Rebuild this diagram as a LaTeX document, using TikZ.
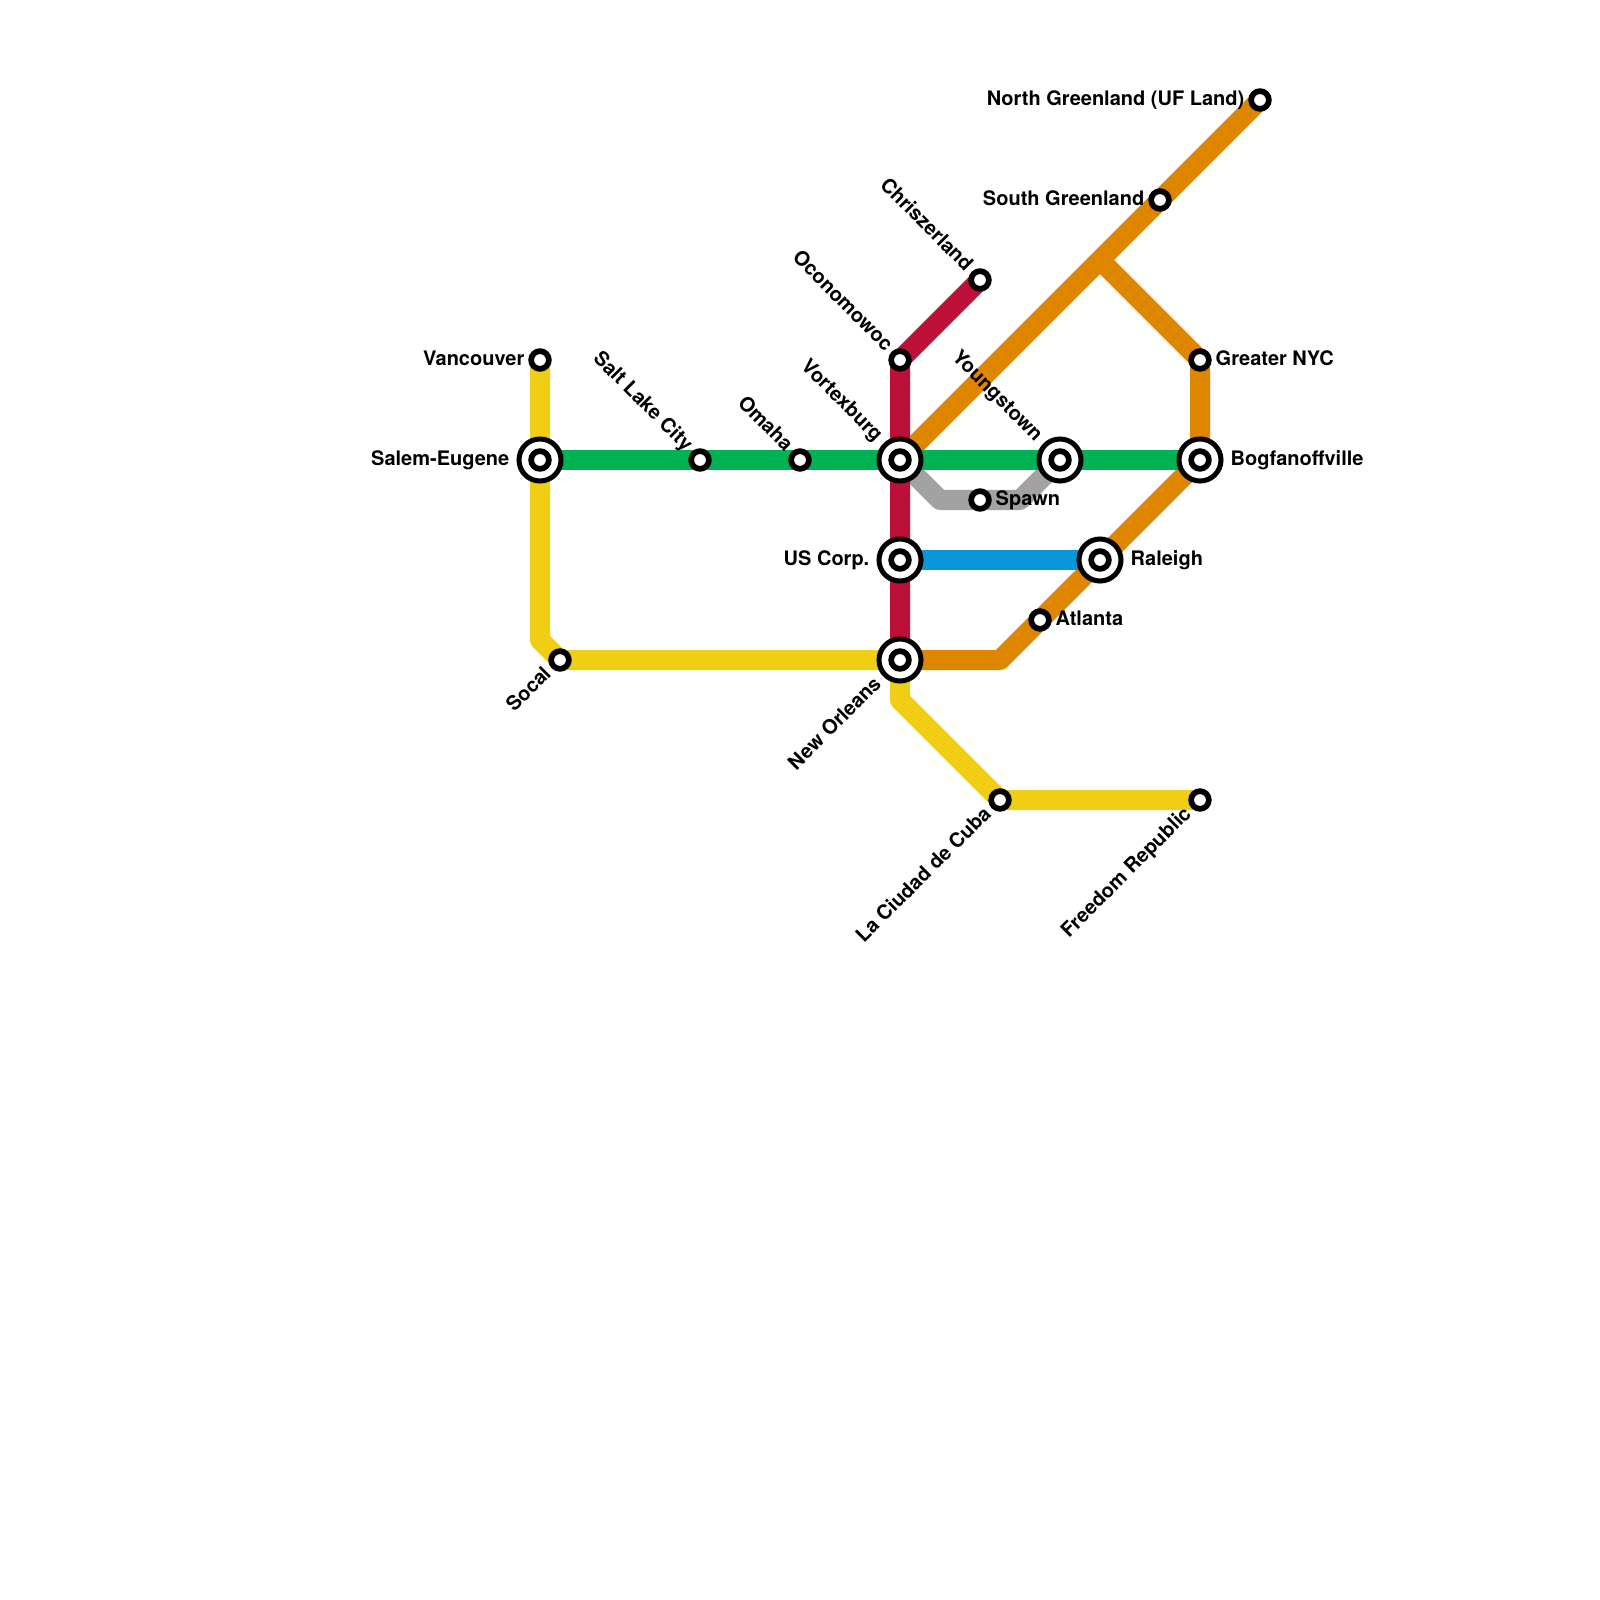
\documentclass[tikz,border=0pt]{standalone}
\usepackage{fontspec}
\setmainfont{TeX Gyre Heros}
\definecolor{lnyellow}{HTML}{F0CE15}
\definecolor{lngreen}{HTML}{00B251}
\definecolor{lncrimson}{HTML}{BD1038}
\definecolor{lnorange}{HTML}{DF8600}
\definecolor{lngrey}{HTML}{A2A2A2}
\definecolor{lnblue}{HTML}{0896D7}
\tikzset{
  metroline/.style={line width=.2cm,line join=round},
  stnsmall/.style={circle,draw=black,fill=white,line width=.057cm,minimum size=.177cm,inner sep=0pt},
  stnbig/.style={circle,draw=black,fill=white,line width=.05cm,minimum size=.42cm,inner sep=0pt},
  stnlabel/.style={font=\fontsize{5.69pt}{6.5pt}\selectfont\bfseries,inner sep=0pt,text height=4.15pt,text depth=1.2pt}
}
\begin{document}
\begin{tikzpicture}[x=.01cm,y=-.01cm]
\useasboundingbox(0,0)rectangle(1600,1600);
\coordinate(Vancouver)at(540,360);\coordinate(Salem)at(540,460);\coordinate(Socal)at(560,660);\coordinate(SaltLake)at(700,460);\coordinate(Omaha)at(800,460);
\coordinate(Vortexburg)at(900,460);\coordinate(USCorp)at(900,560);\coordinate(NewOrleans)at(900,660);\coordinate(Oconomowoc)at(900,360);\coordinate(Chriszerland)at(980,280);
\coordinate(Spawn)at(980,500);\coordinate(Youngstown)at(1060,460);\coordinate(Bogfanoff)at(1200,460);\coordinate(Raleigh)at(1100,560);\coordinate(Atlanta)at(1040,620);
\coordinate(GreaterNYC)at(1200,360);\coordinate(SouthGr)at(1160,200);\coordinate(NorthGr)at(1260,100);\coordinate(LaCiudad)at(1000,800);\coordinate(Freedom)at(1200,800);
\coordinate(OrangeFork)at(1100,260);\coordinate(OrangeBend)at(1000,660);\coordinate(YellowBendA)at(540,640);\coordinate(YellowBendB)at(900,700);\coordinate(GreyBendA)at(940,500);\coordinate(GreyBendB)at(1020,500);
% lines
\draw[metroline,lnorange](Vortexburg)--(NorthGr) (OrangeFork)--(GreaterNYC)--(Bogfanoff)--(Raleigh)--(Atlanta)--(OrangeBend)--(NewOrleans);
\draw[metroline,lngrey](Vortexburg)--(GreyBendA)--(GreyBendB)--(Youngstown);
\draw[metroline,lncrimson](Chriszerland)--(Oconomowoc)--(NewOrleans);
\draw[metroline,lnyellow](Vancouver)--(YellowBendA)--(Socal)--(NewOrleans)--(YellowBendB)--(LaCiudad)--(Freedom);
\draw[metroline,lngreen](Salem)--(Bogfanoff);
\draw[metroline,lnblue](USCorp)--(Raleigh);
% stations
\foreach\p in{Salem,Vortexburg,USCorp,NewOrleans,Youngstown,Bogfanoff,Raleigh}{\node[stnbig](big\p)at(\p){};}
\foreach\p in{Vancouver,Salem,Socal,SaltLake,Omaha,Vortexburg,USCorp,NewOrleans,Oconomowoc,Chriszerland,Spawn,Youngstown,Bogfanoff,Raleigh,Atlanta,GreaterNYC,SouthGr,NorthGr,LaCiudad,Freedom}{\node[stnsmall](stn\p)at(\p){};}
% labels
\foreach\p/\txt/\dx/\dy in{Vancouver/Vancouver/-15/0,Salem/Salem-Eugene/-30/0,USCorp/US Corp./-30/0,SouthGr/South Greenland/-15/0,NorthGr/North Greenland (UF Land)/-15/0}{\node[stnlabel,anchor=east](lbl\p)at([shift={(\dx,\dy)}]\p){\txt};}
\foreach\p/\txt/\dx/\dy in{Raleigh/Raleigh/30/0,Bogfanoff/Bogfanoffville/30/0,GreaterNYC/Greater NYC/15/0,Spawn/Spawn/15/0,Atlanta/Atlanta/15/0}{\node[stnlabel,anchor=west](lbl\p)at([shift={(\dx,\dy)}]\p){\txt};}
\foreach\p/\txt/\dx/\dy in{SaltLake/Salt Lake City/-11/-11,Omaha/Omaha/-11/-11,Oconomowoc/Oconomowoc/-11/-11,Chriszerland/Chriszerland/-11/-11,Vortexburg/Vortexburg/-21/-21,Youngstown/Youngstown/-21/-21}{\node[stnlabel,anchor=east,rotate=-45](lbl\p)at([shift={(\dx,\dy)}]\p){\txt};}
\foreach\p/\txt/\dx/\dy in{Socal/Socal/-11/11,LaCiudad/La Ciudad de Cuba/-11/11,Freedom/Freedom Republic/-11/11,NewOrleans/New Orleans/-21/21}{\node[stnlabel,anchor=east,rotate=45](lbl\p)at([shift={(\dx,\dy)}]\p){\txt};}
\end{tikzpicture}
\end{document}
